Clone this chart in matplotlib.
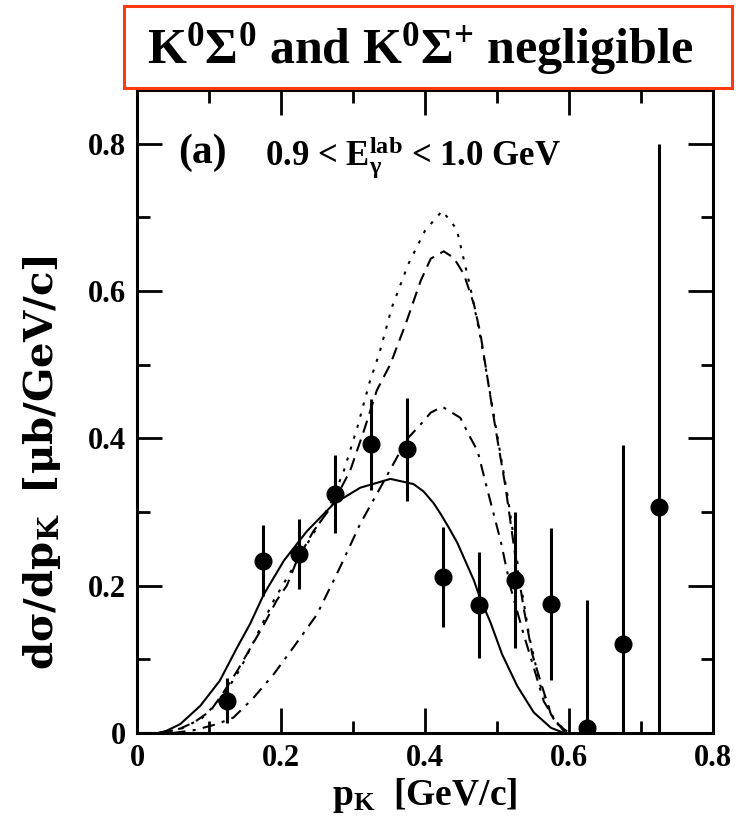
import matplotlib
matplotlib.use("Agg")
import matplotlib.pyplot as plt
from matplotlib.patches import Rectangle
from matplotlib.ticker import MultipleLocator

plt.rcParams['font.family'] = ['Liberation Serif', 'DejaVu Serif']
plt.rcParams['font.weight'] = 'bold'
plt.rcParams['axes.labelweight'] = 'bold'
plt.rcParams['mathtext.fontset'] = 'custom'
plt.rcParams['mathtext.rm'] = 'Liberation Serif:bold'
plt.rcParams['mathtext.it'] = 'Liberation Serif:bold'
plt.rcParams['mathtext.bf'] = 'Liberation Serif:bold'
plt.rcParams['mathtext.sf'] = 'DejaVu Serif:bold'
plt.rcParams['mathtext.default'] = 'rm'

# measured points
p_k = [0.125, 0.175, 0.225, 0.275, 0.325, 0.375, 0.425, 0.475, 0.525, 0.575, 0.625, 0.675, 0.725]
dsig = [0.044, 0.234, 0.243, 0.324, 0.392, 0.385, 0.212, 0.174, 0.208, 0.175, 0.007, 0.121, 0.307]
dsig_err = [0.030, 0.048, 0.047, 0.053, 0.062, 0.070, 0.068, 0.072, 0.092, 0.103, 0.173, 0.270, 0.493]

# model curves
solid_x = [0.0, 0.03, 0.041, 0.06, 0.088, 0.115, 0.139, 0.157, 0.176, 0.204, 0.236, 0.273, 0.310,
           0.352, 0.384, 0.398, 0.412, 0.422, 0.433, 0.445, 0.468, 0.477, 0.491, 0.507, 0.528,
           0.551, 0.575, 0.593]
solid_y = [0.0, 0.0, 0.003, 0.012, 0.037, 0.071, 0.116, 0.148, 0.188, 0.234, 0.274, 0.311, 0.333,
           0.345, 0.338, 0.328, 0.312, 0.297, 0.279, 0.258, 0.207, 0.182, 0.150, 0.107, 0.064,
           0.028, 0.007, 0.0]

dash_x = [0.03, 0.06, 0.08, 0.102, 0.12, 0.139, 0.155, 0.175, 0.194, 0.208, 0.222, 0.245, 0.269,
          0.296, 0.315, 0.333, 0.352, 0.373, 0.394, 0.408, 0.426, 0.44, 0.454, 0.468, 0.477,
          0.489, 0.498, 0.512, 0.524, 0.537, 0.549, 0.563, 0.575, 0.595]
dash_y = [0.0, 0.006, 0.015, 0.030, 0.055, 0.084, 0.111, 0.145, 0.180, 0.200, 0.234, 0.274, 0.306,
          0.356, 0.410, 0.465, 0.501, 0.555, 0.614, 0.644, 0.654, 0.645, 0.623, 0.582, 0.542,
          0.468, 0.413, 0.333, 0.250, 0.170, 0.107, 0.062, 0.025, 0.0]

dot_x = [0.03, 0.06, 0.09, 0.12, 0.145, 0.167, 0.19, 0.22, 0.25, 0.268, 0.287, 0.306, 0.323,
         0.337, 0.354, 0.377, 0.40, 0.424, 0.444, 0.463, 0.477, 0.489, 0.50, 0.515, 0.53,
         0.545, 0.56, 0.578, 0.598]
dot_y = [0.0, 0.005, 0.02, 0.05, 0.09, 0.134, 0.18, 0.23, 0.279, 0.31, 0.355, 0.415, 0.476,
         0.517, 0.578, 0.637, 0.682, 0.709, 0.684, 0.605, 0.537, 0.469, 0.406, 0.32, 0.22,
         0.13, 0.065, 0.02, 0.0]

dashdot_x = [0.05, 0.08, 0.111, 0.134, 0.162, 0.190, 0.217, 0.250, 0.282, 0.310, 0.343, 0.375,
             0.394, 0.408, 0.424, 0.449, 0.463, 0.473, 0.487, 0.505, 0.519, 0.537, 0.551, 0.565,
             0.584, 0.60]
dashdot_y = [0.0, 0.004, 0.012, 0.021, 0.048, 0.080, 0.116, 0.161, 0.225, 0.284, 0.342, 0.399,
             0.419, 0.435, 0.443, 0.428, 0.401, 0.383, 0.329, 0.261, 0.197, 0.134, 0.089, 0.043,
             0.012, 0.0]

tick_vals = [0, 0.2, 0.4, 0.6, 0.8]
tick_text = ['0', '0.2', '0.4', '0.6', '0.8']

fig = plt.figure(figsize=(7.39, 8.30), dpi=100)
ax = fig.add_axes([137 / 739, 1 - 733 / 830, (713 - 137) / 739, (733 - 90) / 830])

lw = 1.5
ax.plot(solid_x, solid_y, color='black', lw=lw, ls='-')
ax.plot(dash_x, dash_y, color='black', lw=lw, ls=(0, (6, 3.5)))
ax.plot(dot_x, dot_y, color='black', lw=lw, ls=(0, (1.5, 4)))
ax.plot(dashdot_x, dashdot_y, color='black', lw=lw, ls=(0, (6, 3.5, 1.5, 3.5)))

ax.errorbar(p_k, dsig, yerr=dsig_err, fmt='o', color='black', ms=12, elinewidth=2.2,
            capsize=0, zorder=5)

ax.set_xlim(0, 0.8)
ax.set_ylim(0, 0.873)
ax.set_xticks(tick_vals)
ax.set_xticklabels(tick_text)
ax.set_yticks(tick_vals)
ax.set_yticklabels(tick_text)
ax.xaxis.set_minor_locator(MultipleLocator(0.1))
ax.yaxis.set_minor_locator(MultipleLocator(0.1))
ax.tick_params(which='both', direction='in', top=True, right=True, width=2)
ax.tick_params(which='major', length=18, labelsize=22, pad=8)
ax.tick_params(which='minor', length=9)
for s in ax.spines.values():
    s.set_linewidth(2.2)

ax.set_xlabel(r'p$_{\rm K}$  [GeV/c]', fontsize=27, labelpad=2)
ax.set_ylabel(r'$\mathsf{d\sigma/dp_K\ \ [\mu b/GeV/c]}$', fontsize=29)
ax.yaxis.set_label_coords(-0.128, 0.42)

ax.text(0.057, 0.774, '(a)', fontsize=30, va='baseline')
ax.text(0.178, 0.77, r'0.9 < E$_{\gamma}^{\rm lab}$ < 1.0 GeV', fontsize=25, va='baseline')

# heading box above the axes
fig.patches.append(Rectangle((124 / 739, 1 - 88 / 830), (732 - 124) / 739, 82 / 830,
                             transform=fig.transFigure, fill=False, edgecolor='#ff3a10',
                             lw=2.2))
fig.text(420 / 739, 1 - 49 / 830, r'K$^0\Sigma^0$ and K$^0\Sigma^{{+}}$ negligible',
         fontsize=36, ha='center', va='center')

fig.savefig('out.png', dpi=100)
